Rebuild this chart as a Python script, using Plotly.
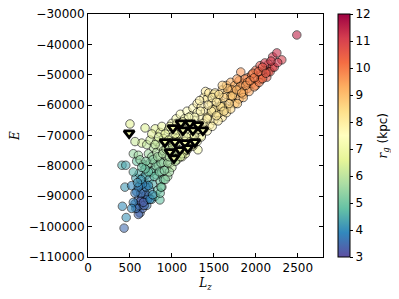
import plotly.graph_objects as go

# ---- main sample: angular momentum Lz, energy E, guiding radius rg (kpc)
lz = [430, 455, 410, 440, 405, 450, 520, 560, 590, 620, 650, 600, 640, 680, 700, 720, 660, 620, 580, 700,
      740, 760, 800, 570, 610, 650, 690, 730, 770, 540, 580, 660, 540, 600, 640, 500, 680, 800, 560, 620,
      700, 740, 780, 820, 860, 720, 760, 800, 840, 880, 900, 780, 820, 860, 900, 940, 700, 740, 820, 860,
      900, 940, 980, 760, 860, 900, 940, 980, 1020, 880, 960, 1000, 1040, 1080, 830, 857, 1000, 1050, 1100, 1150,
      1200, 1310, 1050, 1100, 1150, 1200, 1250, 1300, 1100, 1150, 1200, 1250, 1300, 1350, 1180, 1230, 1280, 1330, 1380, 1250,
      1300, 1350, 1400, 1450, 1300, 1350, 1400, 1450, 1500, 1380, 1420, 1470, 1520, 1560, 1600, 1400, 1440, 1500, 1550, 1600,
      1650, 1600, 1650, 1700, 1750, 1650, 1700, 1750, 1800, 1700, 1750, 1800, 1850, 1800, 1850, 1900, 1950, 1900, 2000, 1950,
      2050, 2000, 2100, 2150, 2130, 2050, 2150, 2107, 2200, 2250, 2309, 2488, 2200, 1820, 1870, 1775, 1965, 1715, 1810, 1512,
      975, 1010, 1060, 1120, 1060, 1000, 950, 880, 860, 1160, 1475, 1550, 1230, 1330, 1420, 1500, 1600, 1700, 1850, 1900,
      2000, 2060, 1150, 1250, 1120,
      870, 920, 970, 1040, 1100, 1180, 1250, 1350, 1420, 1480, 1550, 1650, 1700, 1780, 1850, 1920, 1980, 2040, 2080, 2170,
      2220, 2260, 2180,
      610, 630, 670, 690, 710, 630, 660, 600, 570, 540, 520, 740, 690, 720, 650, 600, 560, 770, 630, 590,
      750, 790, 810, 850, 770, 870, 830, 910, 950, 890, 930, 970, 1000, 1010, 800, 840, 920, 960, 1040, 1080,
      690, 720, 680, 640,
      1120, 1170, 1220, 1270, 1320, 1370, 1420, 1470, 1530, 1580, 1620, 1480, 1530, 1340, 1270, 1200, 1130, 1060, 1330, 1430,
      1680, 1720, 1770, 1830, 1880, 1930, 1980, 2030, 2080, 2120, 1660, 1620, 1560, 1600]
energy = [-100500, -97000, -93300, -87000, -79800, -79800, -86500, -92500, -94000, -95500, -94000, -91000, -90000, -91500, -93000, -90000, -88000, -86500, -88500, -86000,
          -88000, -91000, -90000, -84000, -82500, -84000, -83000, -84500, -86000, -82000, -78500, -79500, -76000, -76500, -72500, -66200, -67500, -67800, -72000, -78000,
          -80000, -79000, -81500, -83000, -85000, -76000, -77000, -78500, -80000, -82000, -84500, -74000, -75500, -77000, -79000, -81000, -73000, -71500, -72000, -73500,
          -75000, -77000, -79000, -69500, -69000, -71000, -73000, -75000, -77000, -67000, -68000, -70500, -73000, -75500, -88000, -91200, -66000, -68000, -70000, -72000,
          -74000, -74700, -64500, -66000, -67500, -69500, -71000, -72000, -63000, -64500, -66000, -67500, -69000, -70000, -62000, -63500, -65000, -66500, -68000, -61000,
          -62500, -64000, -65500, -66500, -59500, -60500, -62000, -63500, -65000, -57500, -58000, -59500, -61000, -62500, -64000, -55500, -56000, -56500, -58000, -59500,
          -61000, -55000, -56500, -58000, -59500, -53500, -55000, -56500, -58000, -52500, -53500, -55000, -56500, -52000, -53000, -54500, -53000, -51000, -51500, -50000,
          -50000, -48500, -48500, -49000, -50800, -47000, -46500, -46100, -44100, -42800, -45100, -36900, -47500, -49100, -51400, -51400, -49500, -55000, -54000, -56000,
          -67000, -72000, -71000, -77000, -78000, -80500, -83500, -87000, -89000, -76000, -61600, -63000, -70000, -68500, -64000, -61500, -60500, -57000, -55500, -52500,
          -53500, -51500, -74500, -73500, -76000,
          -87000, -84500, -82000, -78500, -77000, -74800, -73000, -70500, -68500, -67000, -65200, -62500, -61300, -59500, -57500, -55500, -54000, -52500, -51300, -49000,
          -47500, -46000, -45500,
          -93000, -91500, -93000, -89500, -91000, -89000, -92000, -96000, -94000, -92000, -94000, -91000, -87000, -86500, -86000, -87000, -89000, -89500, -84500, -85500,
          -82000, -83500, -80000, -82000, -78000, -79000, -77000, -81500, -79000, -76000, -74500, -77000, -75500, -73500, -73000, -70500, -69500, -71500, -69500, -72000,
          -78500, -82000, -81000, -80500,
          -68500, -70500, -72000, -70000, -68000, -66000, -64500, -62000, -63500, -60500, -62000, -57500, -59000, -62000, -64000, -64000, -65500, -66000, -58500, -60000,
          -59500, -57000, -55000, -56000, -53500, -52000, -51000, -49000, -47500, -49500, -54500, -57500, -56500, -53500]
rg = [3.5, 4.1, 4.0, 4.2, 4.5, 4.4, 3.9, 3.8, 3.6, 3.5, 3.4, 3.5, 3.4, 3.6, 3.7, 3.8, 3.6, 3.8, 3.9, 4.0,
      4.1, 4.3, 4.6, 4.3, 4.5, 4.3, 4.5, 4.4, 4.5, 4.6, 4.9, 5.0, 5.5, 5.6, 6.4, 6.6, 6.5, 6.6, 6.2, 5.4,
      5.1, 5.3, 5.0, 5.0, 4.9, 5.6, 5.5, 5.4, 5.3, 5.2, 5.0, 5.9, 5.8, 5.7, 5.5, 5.3, 6.1, 6.3, 6.3, 6.1,
      6.0, 5.8, 5.7, 6.6, 6.6, 6.5, 6.3, 6.2, 6.1, 6.8, 6.8, 6.7, 6.5, 6.4, 4.7, 4.8, 7.0, 7.0, 6.9, 6.9,
      6.9, 7.2, 7.2, 7.2, 7.1, 7.1, 7.1, 7.2, 7.4, 7.3, 7.3, 7.3, 7.3, 7.4, 7.5, 7.5, 7.5, 7.5, 7.6, 7.6,
      7.6, 7.7, 7.8, 7.8, 7.8, 7.8, 7.9, 7.9, 8.0, 7.9, 7.9, 8.0, 8.1, 8.2, 8.2, 8.0, 8.1, 8.1, 8.2, 8.3,
      8.4, 8.6, 8.7, 8.8, 8.9, 8.9, 9.0, 9.0, 9.1, 9.2, 9.3, 9.4, 9.4, 9.6, 9.6, 9.7, 9.9, 9.9, 10.1, 10.1,
      10.3, 10.3, 10.5, 10.6, 10.6, 10.7, 11.0, 11.1, 11.2, 11.3, 11.0, 11.5, 10.8, 9.6, 9.7, 9.5, 9.9, 9.3, 9.4, 8.1,
      7.0, 6.6, 6.7, 6.6, 6.3, 6.0, 5.5, 5.2, 4.9, 6.6, 8.0, 8.2, 7.2, 7.5, 7.9, 8.1, 8.4, 8.8, 9.3, 9.6,
      9.9, 10.2, 6.9, 7.1, 6.8,
      5.0, 5.3, 5.6, 6.0, 6.3, 6.7, 7.0, 7.3, 7.6, 7.8, 8.0, 8.3, 8.5, 8.8, 9.1, 9.4, 9.7, 10.0, 10.3, 10.7,
      11.0, 11.2, 11.1,
      3.4, 3.3, 3.4, 3.5, 3.6, 3.6, 3.3, 3.4, 3.6, 3.8, 3.9, 3.9, 3.8, 4.0, 3.9, 3.8, 3.7, 4.2, 4.2, 4.1,
      4.9, 4.8, 5.2, 5.1, 5.3, 5.4, 5.6, 5.3, 5.6, 5.8, 6.0, 5.9, 6.1, 6.3, 6.1, 6.4, 6.6, 6.5, 6.8, 6.7,
      5.2, 4.8, 4.9, 4.9,
      7.0, 7.0, 7.0, 7.2, 7.4, 7.6, 7.8, 8.0, 8.1, 8.3, 8.3, 8.0, 8.1, 7.7, 7.5, 7.3, 7.2, 7.1, 7.8, 7.9,
      8.6, 8.8, 9.1, 9.2, 9.5, 9.8, 10.0, 10.3, 10.6, 10.6, 8.9, 8.6, 8.4, 8.7]

# ---- highlighted subsample (triangles)
tri_lz = [490, 1107, 1214, 1310, 1012, 1131, 1250, 1369, 917, 1036, 1155, 1274, 976, 1095, 1190, 1024]
tri_e = [-69200, -65900, -65900, -66500, -67500, -68200, -68200, -68200, -72100, -72100, -72400, -72100,
         -75400, -74700, -74100, -77400]
tri_rg = [7.0, 7.1, 7.1, 7.2, 7.0, 7.1, 7.1, 7.2, 6.9, 7.0, 7.0, 7.1, 6.9, 7.0, 7.0, 6.9]

x_ticks = [0, 500, 1000, 1500, 2000, 2500]
y_ticks = [-30000, -40000, -50000, -60000, -70000, -80000, -90000, -100000, -110000]
cb_ticks = [3, 4, 5, 6, 7, 8, 9, 10, 11, 12]

spectral_r = [[0.0, "#5e4fa2"], [0.1, "#3288bd"], [0.2, "#66c2a5"], [0.3, "#abdda4"],
              [0.4, "#e6f598"], [0.5, "#ffffbf"], [0.6, "#fee08b"], [0.7, "#fdae61"],
              [0.8, "#f46d43"], [0.9, "#d53e4f"], [1.0, "#9e0142"]]

fig = go.Figure()
fig.add_trace(go.Scatter(
    x=lz, y=energy, mode="markers",
    marker=dict(size=8.5, color=rg, coloraxis="coloraxis", opacity=0.6,
                line=dict(color="black", width=1)),
    showlegend=False, hoverinfo="skip"))
fig.add_trace(go.Scatter(
    x=tri_lz, y=tri_e, mode="markers",
    marker=dict(symbol="triangle-down", size=9, color=tri_rg, coloraxis="coloraxis",
                line=dict(color="black", width=2.8)),
    showlegend=False, hoverinfo="skip"))

axis_common = dict(showline=True, linecolor="black", linewidth=1, mirror="ticks",
                   ticks="inside", ticklen=4, tickcolor="black", showgrid=False, zeroline=False,
                   automargin=False, ticklabeloverflow="allow",
                   tickfont=dict(family="DejaVu Sans", size=12, color="black"))

# the page body adds an 8 px offset, so the figure is drawn 8 px smaller
fig.update_layout(
    width=391, height=291,
    margin=dict(l=80, r=76, t=6, b=42, autoexpand=False),
    paper_bgcolor="white", plot_bgcolor="white",
    xaxis=dict(range=[0, 2800], tickvals=x_ticks, ticktext=[str(v) for v in x_ticks],
               title=dict(text="<i>L<sub>z</sub></i>", font=dict(family="DejaVu Serif", size=12, color="black"),
                          standoff=4),
               **axis_common),
    yaxis=dict(range=[-110000, -30000], tickvals=y_ticks,
               ticktext=["\u2212" + str(-v) for v in y_ticks],
               title=dict(text="<i>E</i>", font=dict(family="DejaVu Serif", size=12, color="black"),
                          standoff=8),
               **axis_common),
    coloraxis=dict(
        cmin=3, cmax=12, colorscale=spectral_r,
        colorbar=dict(x=1.064, xanchor="left", xref="paper", y=0.5, yanchor="middle", len=1,
                      lenmode="fraction", thickness=12, outlinewidth=1, outlinecolor="black",
                      xpad=0, ypad=0, ticklabeloverflow="allow",
                      tickvals=cb_ticks, ticks="outside", ticklen=3, tickcolor="black",
                      tickfont=dict(family="DejaVu Sans", size=12, color="black"))),
    annotations=[dict(
        text="<i>r<sub>g</sub></i> <span style='font-family:DejaVu Sans'>(kpc)</span>",
        xref="paper", yref="paper", x=1.255, y=0.5, xanchor="center", yanchor="middle",
        textangle=-90, showarrow=False, height=40,
        font=dict(family="DejaVu Serif", size=12, color="black"))],
)

fig.write_html("out.html")
